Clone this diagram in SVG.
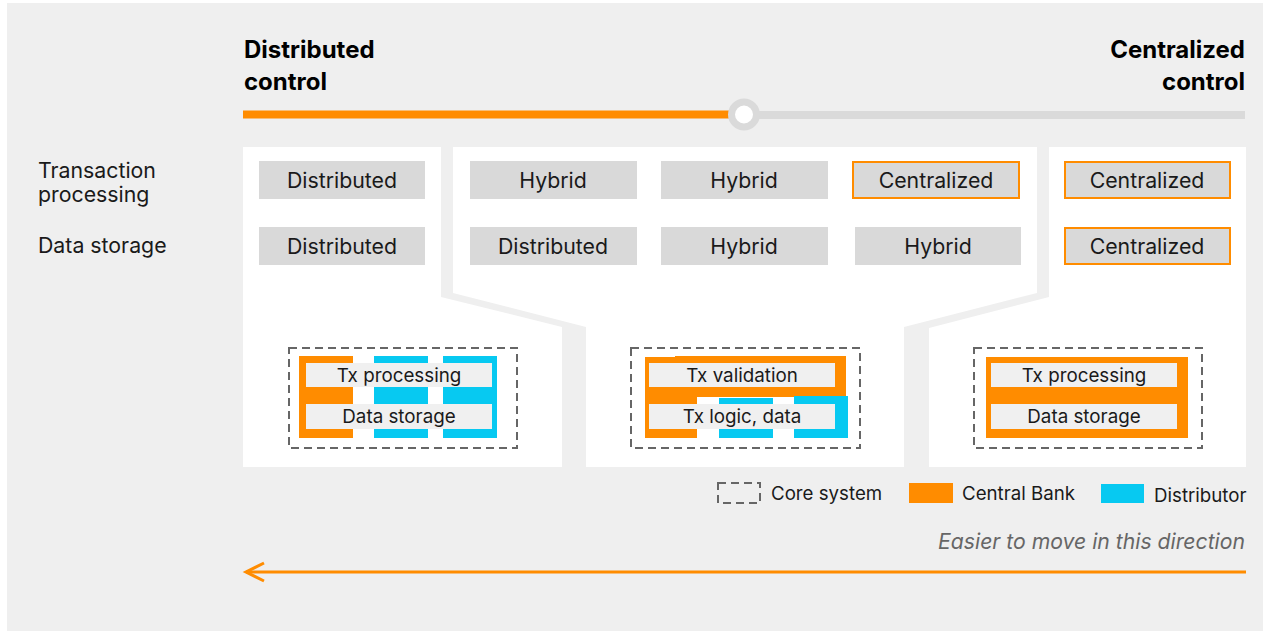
<svg xmlns="http://www.w3.org/2000/svg" width="1265" height="631" viewBox="0 0 1265 631">
  <style>
    text { font-family: Inter, "Liberation Sans", sans-serif; fill: #1a1a1a; }
    .hdr { font-size: 24px; font-weight: 700; fill: #000; }
    .lbl { font-size: 21.3px; }
    .cell { fill: #d9d9d9; }
    .cell-c { fill: #d9d9d9; stroke: #ff8c00; stroke-width: 2; }
    .ctext { font-size: 21.3px; text-anchor: middle; }
    .panel { fill: #ffffff; }
    .core { fill: none; stroke: #666666; stroke-width: 2; stroke-dasharray: 8 5; }
    .cb { fill: #ff8c00; }
    .dist { fill: #07c9f1; }
    .tag { fill: #f0f0f0; }
    .ttext { font-size: 18.8px; text-anchor: middle; }
    .leg { font-size: 18.7px; }
  </style>
  <defs>
    <marker id="arrowLeft" markerWidth="24" markerHeight="24" refX="20" refY="11" orient="auto" markerUnits="userSpaceOnUse">
      <path d="M2 2 L20 11 L2 20" fill="none" stroke="#ff8c00" stroke-width="3"/>
    </marker>
  </defs>

  <!-- backdrop -->
  <rect x="0" y="0" width="1265" height="631" fill="#ffffff"/>
  <rect x="7" y="3" width="1256" height="628" fill="#efefef"/>

  <!-- control scale -->
  <g id="scale">
    <text class="hdr" x="244" y="58">Distributed</text>
    <text class="hdr" x="244" y="90">control</text>
    <text class="hdr" x="1245" y="58" text-anchor="end">Centralized</text>
    <text class="hdr" x="1245" y="90" text-anchor="end">control</text>
    <rect x="243" y="110.5" width="500" height="8" fill="#ff8c00"/>
    <rect x="743" y="111" width="502" height="8" fill="#dadada"/>
    <circle cx="744" cy="114.5" r="12.5" fill="#ffffff" stroke="#dadada" stroke-width="7"/>
  </g>

  <!-- row labels -->
  <g id="row-labels">
    <text class="lbl" x="38" y="178">Transaction</text>
    <text class="lbl" x="38" y="202">processing</text>
    <text class="lbl" x="38" y="253">Data storage</text>
  </g>

  <!-- option panels -->
  <g id="panel-distributed">
    <path class="panel" d="M243 147 H441 V297 L562 327 V467 H243 Z"/>
    <rect class="cell" x="259" y="161" width="166" height="38"/>
    <text class="ctext" x="342" y="188">Distributed</text>
    <rect class="cell" x="259" y="227" width="166" height="38"/>
    <text class="ctext" x="342" y="254">Distributed</text>
    <rect class="core" x="289" y="348" width="228" height="100"/>
    <rect class="cb" x="299" y="356" width="54" height="82"/>
    <rect class="dist" x="374" y="356" width="54" height="82"/>
    <rect class="dist" x="443" y="356" width="54" height="82"/>
    <rect class="tag" x="306" y="363" width="186" height="24"/>
    <text class="ttext" x="399" y="382">Tx processing</text>
    <rect class="tag" x="306" y="404" width="186" height="25"/>
    <text class="ttext" x="399" y="423">Data storage</text>
  </g>

  <g id="panel-hybrid">
    <path class="panel" d="M453 147 H1037 V293 L904 327 V467 H586 V327 L453 293 Z"/>
    <rect class="cell" x="470" y="161" width="167" height="38"/>
    <text class="ctext" x="553" y="188">Hybrid</text>
    <rect class="cell" x="470" y="227" width="167" height="38"/>
    <text class="ctext" x="553" y="254">Distributed</text>
    <rect class="cell" x="661" y="161" width="167" height="38"/>
    <text class="ctext" x="744" y="188">Hybrid</text>
    <rect class="cell" x="661" y="227" width="167" height="38"/>
    <text class="ctext" x="744" y="254">Hybrid</text>
    <rect class="cell-c" x="853" y="162" width="166" height="36"/>
    <text class="ctext" x="936" y="188">Centralized</text>
    <rect class="cell" x="855" y="227" width="166" height="38"/>
    <text class="ctext" x="938" y="254">Hybrid</text>
    <rect class="core" x="631" y="348" width="229" height="100"/>
    <path class="cb" d="M645 357 H675 V356 H846 V397 H697 V438 H645 Z"/>
    <rect class="dist" x="719" y="398" width="54" height="40"/>
    <rect class="dist" x="794" y="396" width="54" height="42"/>
    <rect class="tag" x="649" y="363" width="186" height="24"/>
    <text class="ttext" x="742" y="382">Tx validation</text>
    <rect class="tag" x="649" y="404" width="186" height="25"/>
    <text class="ttext" x="742" y="423">Tx logic, data</text>
  </g>

  <g id="panel-centralized">
    <path class="panel" d="M1049 147 H1246 V467 H929 V328 L1049 297 Z"/>
    <rect class="cell-c" x="1065" y="162" width="165" height="36"/>
    <text class="ctext" x="1147" y="188">Centralized</text>
    <rect class="cell-c" x="1065" y="228" width="165" height="36"/>
    <text class="ctext" x="1147" y="254">Centralized</text>
    <rect class="core" x="974" y="348" width="228" height="100"/>
    <rect class="cb" x="986" y="357" width="202" height="81"/>
    <rect class="tag" x="991" y="363" width="186" height="24"/>
    <text class="ttext" x="1084" y="382">Tx processing</text>
    <rect class="tag" x="991" y="404" width="186" height="25"/>
    <text class="ttext" x="1084" y="423">Data storage</text>
  </g>

  <!-- legend -->
  <g id="legend">
    <rect class="core" x="718" y="483" width="42" height="20"/>
    <text class="leg" x="771" y="500">Core system</text>
    <rect class="cb" x="909" y="483" width="44" height="20"/>
    <text class="leg" x="962" y="500">Central Bank</text>
    <rect class="dist" x="1101" y="484" width="43" height="19"/>
    <text class="leg" x="1154" y="502">Distributor</text>
  </g>

  <!-- direction arrow -->
  <g id="connectors">
    <text x="1245" y="549" text-anchor="end" font-size="21.2" font-style="italic" style="fill:#666666">Easier to move in this direction</text>
    <line x1="1246" y1="572" x2="246" y2="572" stroke="#ff8c00" stroke-width="3" marker-end="url(#arrowLeft)"/>
  </g>
</svg>
